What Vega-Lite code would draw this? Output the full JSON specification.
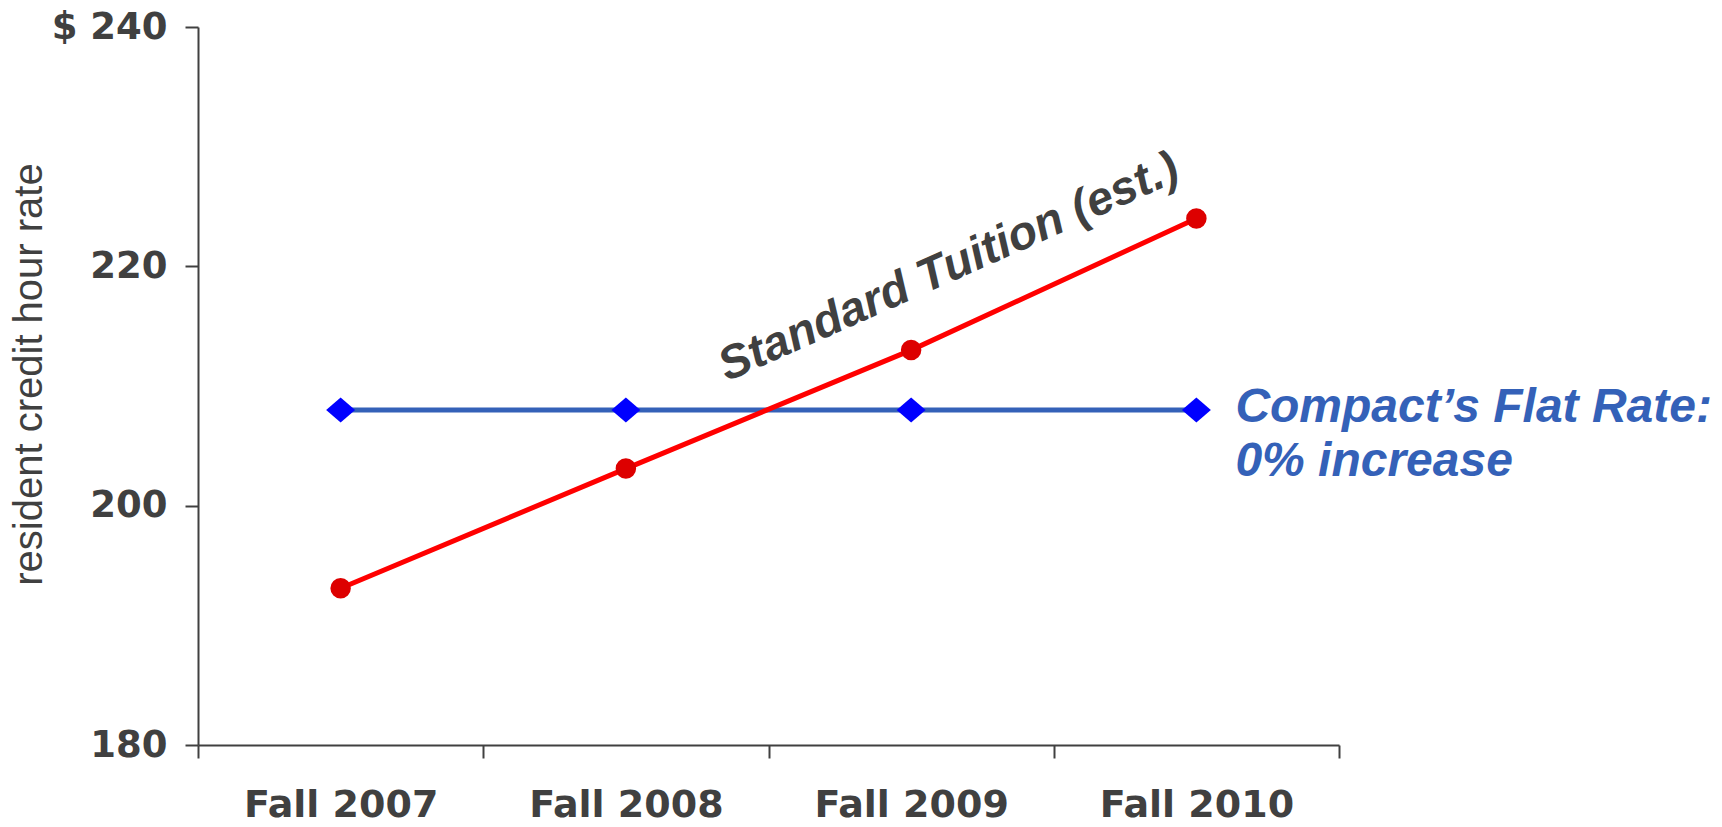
{
  "$schema": "https://vega.github.io/schema/vega-lite/v6.json",
  "width": 1141,
  "height": 718,
  "autosize": {"type": "none"},
  "padding": {"left": 198, "top": 27, "right": 383, "bottom": 82},
  "background": "#ffffff",
  "config": {"view": {"stroke": null}},
  "data": {
    "values": [
      {"period": "Fall 2007", "series": "Standard", "value": 193.1},
      {"period": "Fall 2008", "series": "Standard", "value": 203.1},
      {"period": "Fall 2009", "series": "Standard", "value": 213},
      {"period": "Fall 2010", "series": "Standard", "value": 224},
      {"period": "Fall 2007", "series": "Compact", "value": 208},
      {"period": "Fall 2008", "series": "Compact", "value": 208},
      {"period": "Fall 2009", "series": "Compact", "value": 208},
      {"period": "Fall 2010", "series": "Compact", "value": 208}
    ]
  },
  "encoding": {
    "x": {
      "field": "period",
      "type": "ordinal",
      "sort": ["Fall 2007", "Fall 2008", "Fall 2009", "Fall 2010"],
      "scale": {"type": "band", "paddingInner": 0, "paddingOuter": 0},
      "axis": {
        "title": null,
        "labelAngle": 0,
        "labelLimit": 500,
        "tickBand": "extent",
        "labelFont": "DejaVu Sans",
        "labelFontWeight": "bold",
        "labelFontSize": 38,
        "labelColor": "#404040",
        "labelPadding": 28,
        "domainColor": "#404040",
        "domainWidth": 2,
        "tickColor": "#404040",
        "tickWidth": 2,
        "tickSize": 13,
        "grid": false
      }
    },
    "y": {
      "field": "value",
      "type": "quantitative",
      "scale": {"domain": [180, 240], "nice": false, "zero": false},
      "axis": {
        "title": "resident credit hour rate",
        "titleFont": "Liberation Sans",
        "titleFontWeight": "normal",
        "titleFontSize": 40,
        "titleColor": "#404040",
        "titlePadding": 2,
        "titleY": 347,
        "values": [180, 200, 220, 240],
        "labelExpr": "datum.value == 240 ? '$ 240' : datum.label",
        "labelLimit": 300,
        "labelFont": "DejaVu Sans",
        "labelFontWeight": "bold",
        "labelFontSize": 37,
        "labelColor": "#404040",
        "labelPadding": 18,
        "labelBaseline": "middle",
        "domainColor": "#404040",
        "domainWidth": 2,
        "tickColor": "#404040",
        "tickWidth": 2,
        "tickSize": 13,
        "grid": false
      }
    }
  },
  "layer": [
    {
      "transform": [{"filter": "datum.series == 'Compact'"}],
      "mark": {"type": "line", "color": "#3461B8", "strokeWidth": 5}
    },
    {
      "transform": [{"filter": "datum.series == 'Standard'"}],
      "mark": {"type": "line", "color": "#FF0000", "strokeWidth": 5}
    },
    {
      "transform": [{"filter": "datum.series == 'Compact'"}],
      "mark": {"type": "point", "shape": "M-1,0L0,-0.86L1,0L0,0.86Z", "filled": true, "fill": "#0000FF", "opacity": 1, "size": 841, "strokeWidth": 0}
    },
    {
      "transform": [{"filter": "datum.series == 'Standard'"}],
      "mark": {"type": "point", "shape": "circle", "filled": true, "fill": "#DD0000", "opacity": 1, "size": 420, "strokeWidth": 0}
    },
    {
      "data": {"values": [{"period": "Fall 2009", "value": 213, "label": "Standard Tuition (est.)"}]},
      "mark": {"type": "text", "font": "Liberation Sans", "fontWeight": "bold", "fontStyle": "italic", "fontSize": 47, "color": "#404040", "angle": -24, "align": "center", "baseline": "middle", "dx": 68, "dy": -60},
      "encoding": {"text": {"field": "label"}}
    },
    {
      "data": {"values": [{"period": "Fall 2010", "value": 208, "label": "Compact’s Flat Rate:\n0% increase"}]},
      "mark": {"type": "text", "font": "Liberation Sans", "fontWeight": "bold", "fontStyle": "italic", "fontSize": 48, "color": "#3461B8", "align": "left", "baseline": "middle", "lineBreak": "\n", "lineHeight": 54, "dx": 39, "dy": -2},
      "encoding": {"text": {"field": "label"}}
    }
  ]
}
